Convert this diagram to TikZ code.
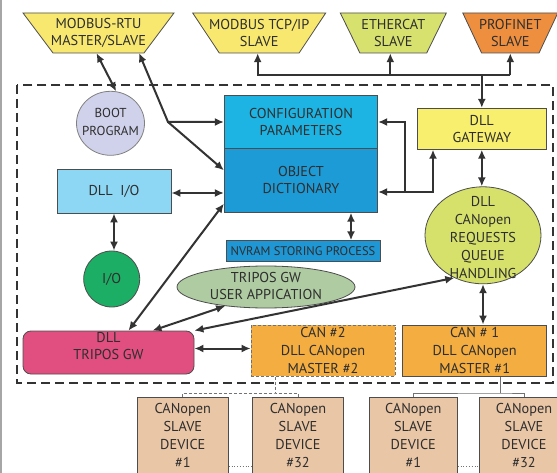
\documentclass[tikz,border=0pt]{standalone}
\usepackage{fontspec}
\setmainfont{PT Sans}
\usetikzlibrary{arrows.meta,shapes.geometric,backgrounds}
\definecolor{txt}{HTML}{2E2E2E}
\definecolor{bord}{HTML}{4D4D4D}
\definecolor{arrc}{HTML}{333333}
\definecolor{cyel}{HTML}{F8E86F}
\definecolor{cecat}{HTML}{D7E16E}
\definecolor{cpn}{HTML}{EE8F3F}
\definecolor{cboot}{HTML}{CFD2EA}
\definecolor{cdllio}{HTML}{8ED7F4}
\definecolor{cio}{HTML}{1DAE65}
\definecolor{ctr}{HTML}{E14F80}
\definecolor{ccfg}{HTML}{1DB4E3}
\definecolor{cod}{HTML}{1D9BD7}
\definecolor{cnv}{HTML}{1F97D5}
\definecolor{capp}{HTML}{AFCBA2}
\definecolor{cgw}{HTML}{F8EF6E}
\definecolor{cq}{HTML}{D6E16C}
\definecolor{ccan}{HTML}{F3AD40}
\definecolor{cslave}{HTML}{E9C6A6}
\newcommand\mfA{\fontsize{14.3}{17.3}\selectfont}
\newcommand\mfB{\fontsize{13}{17.7}\selectfont}
\newcommand\mfC{\fontsize{14.3}{18}\selectfont}
\newcommand\mfN{\fontsize{12.5}{14}\selectfont}
\newcommand\mfS{\fontsize{14.3}{18.3}\selectfont}
\begin{document}
\begin{tikzpicture}[x=1pt,y=-1pt,
  bx/.style={draw=bord, line width=0.8pt, inner sep=0pt, align=center, text=txt, font=\mfA},
  lbl/.style={inner sep=0pt, align=center, text=txt},
  trapt/.style={inner sep=0pt, align=center, text=txt, font=\mfA, minimum height=40},
  trapd/.style={draw=bord, line width=0.8pt},
  dbl/.style={line width=2pt, draw=arrc, {Latex[length=9pt,width=8pt]}-{Latex[length=9pt,width=8pt]}},
  sgl/.style={line width=2pt, draw=arrc, -{Latex[length=9pt,width=8pt]}},
  dashbox/.style={draw=arrc, line width=2.4pt, dash pattern=on 9pt off 5pt},
  slave/.style={bx, fill=cslave, anchor=north, inner ysep=5.5pt, font=\mfS},
  slink/.style={draw=gray!90!black, line width=0.8pt},
]
\useasboundingbox (0,0) rectangle (557,473);
\clip (0,0) rectangle (557,473);
\draw[gray!70, line width=1.2pt] (1,0) -- (1,473);

% top trapezoids (text nodes, shapes drawn behind)
\node[trapt] (rtu) at (98.5,33) {MODBUS-RTU\\MASTER/SLAVE};
\node[trapt] (tcp) at (259.2,33) {MODBUS TCP/IP\\SLAVE};
\node[trapt] (ecat) at (393.3,33) {ETHERCAT\\SLAVE};
\node[trapt] (pn) at (510.3,33) {PROFINET\\SLAVE};
\begin{scope}[on background layer]
  \fill[white] (0,0) rectangle (557,473);
  \draw[trapd, fill=cyel] ([shift={(-75.5,-20)}]rtu.center) -- ([shift={(75.5,-20)}]rtu.center) -- ([shift={(45.5,20)}]rtu.center) -- ([shift={(-45.5,20)}]rtu.center) -- cycle;
  \draw[trapd, fill=cyel] ([shift={(-66.5,-20)}]tcp.center) -- ([shift={(66.5,-20)}]tcp.center) -- ([shift={(39.9,20)}]tcp.center) -- ([shift={(-39.9,20)}]tcp.center) -- cycle;
  \draw[trapd, fill=cecat] ([shift={(-53,-20)}]ecat.center) -- ([shift={(53,-20)}]ecat.center) -- ([shift={(33.4,20)}]ecat.center) -- ([shift={(-33.4,20)}]ecat.center) -- cycle;
  \draw[trapd, fill=cpn] ([shift={(-47.5,-20)}]pn.center) -- ([shift={(47.5,-20)}]pn.center) -- ([shift={(28.7,20)}]pn.center) -- ([shift={(-28.7,20)}]pn.center) -- cycle;
\end{scope}

% dashed frame
\draw[dashbox] (17,85) rectangle (553,382.7);

% boxes
\node[bx, fill=ccfg, minimum width=153.4, minimum height=52.6] (cfg) at (301,122) {CONFIGURATION\\PARAMETERS};
\node[bx, fill=cod, minimum width=153.4, minimum height=64] (od) at (301,180.3) {OBJECT\\DICTIONARY};
\node[bx, fill=cnv, minimum width=154, minimum height=21, font=\mfN] (nv) at (303,251.2) {NVRAM STORING PROCESS};
\node[bx, fill=cdllio, minimum width=114, minimum height=44] (dllio) at (114,191) {DLL\ \ I/O};
\node[bx, circle, fill=cio, minimum size=56] (io) at (111.7,279) {I/O};
\node[bx, fill=cgw, minimum width=128.3, minimum height=41] (gw) at (481.8,128.8) {DLL\\GATEWAY};
\node[bx, fill=ccan, draw=bord!80, dash pattern=on 3pt off 2pt, minimum width=144, minimum height=51.5, font=\mfC] (can2) at (323,350.7) {CAN \#2\\DLL CANopen\\MASTER \#2};
\node[bx, fill=ccan, minimum width=144, minimum height=51.5, font=\mfC] (can1) at (474.7,350.7) {CAN \# 1\\DLL CANopen\\MASTER \#1};
\node[bx, rounded corners=8pt, fill=ctr, minimum width=171, minimum height=43] (trgw) at (108.5,352.5) {};
\node[lbl, font=\mfA] (trgwT) at (108.5,346) {DLL\\TRIPOS GW};

% ellipses
\node[bx, ellipse, fill=cboot, draw=gray, minimum width=68, minimum height=64] (boot) at (110.5,123.3) {};
\node[lbl, font=\mfB] (bootT) at (110.5,122.2) {BOOT\\PROGRAM};
\node[bx, ellipse, fill=capp, minimum width=178, minimum height=42] (app) at (266,287) {};
\node[lbl, font=\mfA] (appT) at (266,286) {TRIPOS GW\\USER APPICATION};
\node[bx, ellipse, fill=cq, minimum width=116, minimum height=97] (q) at (483,235.3) {};
\node[lbl, font=\mfC] (qT) at (483,237.5) {DLL\\CANopen\\REQUESTS\\QUEUE\\HANDLING};

% slaves
\node[slave, minimum width=91] (s1) at (182.8,397) {CANopen\\SLAVE\\DEVICE\\\#1\strut};
\node[slave, minimum width=90.6] (s2) at (298,397) {CANopen\\SLAVE\\DEVICE\\\#32\strut};
\node[slave, minimum width=88] (s3) at (413.3,397) {CANopen\\SLAVE\\DEVICE\\\#1\strut};
\node[slave, minimum width=90] (s4) at (524,397) {CANopen\\SLAVE\\DEVICE\\\#32\strut};

% top bus
\coordinate (bus) at (0,75);
\coordinate (tcpB) at ([xshift=-1.5pt]tcp.south);
\coordinate (ecatB) at ([xshift=-3pt]ecat.south);
\draw[sgl] (pn.south |- bus) -- (tcpB |- bus) -- (tcpB);
\draw[sgl] (pn.south |- bus) -- (pn.south);
\draw[sgl] (ecatB |- bus) -- (ecatB);
\draw[sgl] (gw.north |- bus) -- (gw.north);

% left connectors
\draw[dbl] ([xshift=-2pt]rtu.south) -- (boot.80);
\coordinate (rtuSE) at ([shift={(40.5,20)}]rtu.center);
\coordinate (j1) at (168,122);
\draw[dbl] (rtuSE) -- (j1) -- (cfg.west);
\draw[sgl] (j1) -- ([yshift=10pt]od.west);
\coordinate (dioE) at ([yshift=-2pt]dllio.east);
\draw[dbl] (dioE) -- (dioE -| od.west);
\draw[dbl] (dllio.south) -- (dllio.south |- io.north);
\draw[dbl] ([yshift=9pt]od.south west) -- ([xshift=20pt]trgw.north);
\draw[dbl] ([xshift=44pt]trgw.north) -- (app.205);
\coordinate (trE) at ([yshift=4pt]trgw.east);
\draw[dbl] (trE) -- (trE -| can2.west);
\draw[dbl] (trgw.north east) -- (q.236);
\coordinate (odS) at ([xshift=50pt]od.south);
\draw[dbl] (odS) -- (odS |- nv.north);

% right connectors
\coordinate (j2) at (405,122);
\coordinate (j3) at (405,192);
\coordinate (j4) at (433,192);
\draw[dbl] (cfg.east) -- (j2) -- (j3) -- (j3 -| od.east);
\draw[sgl] (j3) -- (j4) -- (j4 |- gw.south);
\draw[dbl] (gw.south) -- (gw.south |- q.north);
\draw[dbl] (q.south) -- (q.south |- can1.north);

% slave links
\coordinate (t2) at (275,393);
\coordinate (t1) at (500.7,393);
\draw[slink, dash pattern=on 3pt off 2pt] (can2.south -| t2) -- (t2);
\draw[slink, dash pattern=on 3pt off 2pt] (s1.north) |- (t2) -| (s2.north);
\draw[slink] (can1.south -| t1) -- (t1);
\draw[slink] (s3.north) |- (t1) -| (s4.north);
\coordinate (dl) at (0,466.7);
\draw[slink, dotted] (s1.east |- dl) -- (s2.west |- dl);
\draw[slink, dotted] (s3.east |- dl) -- (s4.west |- dl);
\end{tikzpicture}
\end{document}
